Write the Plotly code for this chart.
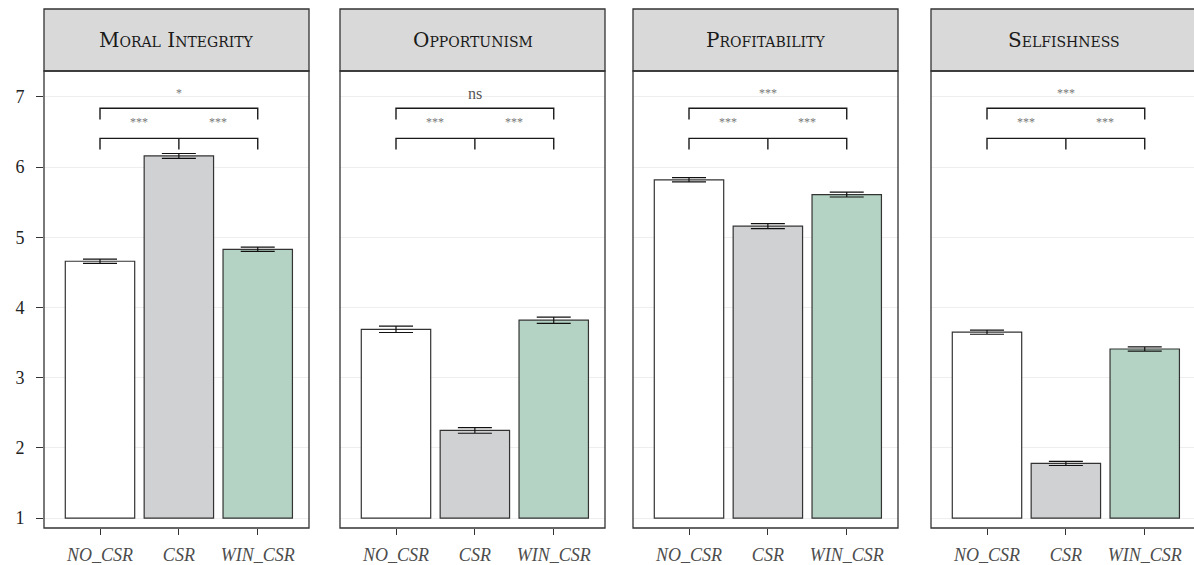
import plotly.graph_objects as go

# Conditions shown on every panel
categories = ["NO_CSR", "CSR", "WIN_CSR"]
bar_colors = ["#ffffff", "#d0d1d3", "#b5d3c5"]

# Panel titles
panel_titles = ["Moral Integrity", "Opportunism", "Profitability", "Selfishness"]

# Mean ratings per condition (NO_CSR, CSR, WIN_CSR)
moral_integrity = [4.66, 6.16, 4.83]
opportunism = [3.69, 2.25, 3.82]
profitability = [5.82, 5.16, 5.61]
selfishness = [3.65, 1.78, 3.41]

# Standard errors
moral_integrity_se = [0.03, 0.035, 0.03]
opportunism_se = [0.045, 0.04, 0.045]
profitability_se = [0.03, 0.035, 0.035]
selfishness_se = [0.03, 0.03, 0.03]

# Significance labels: pairwise (NO_CSR vs CSR, CSR vs WIN_CSR) and outer (NO_CSR vs WIN_CSR)
pair_labels = [["***", "***"], ["***", "***"], ["***", "***"], ["***", "***"]]
outer_labels = ["*", "ns", "***", "***"]

y_ticks = [1, 2, 3, 4, 5, 6, 7]

means = [moral_integrity, opportunism, profitability, selfishness]
errors = [moral_integrity_se, opportunism_se, profitability_se, selfishness_se]

W, H = 1194, 565
SERIF = "Liberation Serif, Times New Roman, serif"
TITLE_SERIF = "DejaVu Serif, serif"

# Panel placement in pixels
panel_left = [44, 340, 633, 931]
panel_w = 265
plot_top, plot_bottom = 71, 528
strip_top = 9

y_range = [0.86, 7.37]
x_left = -0.71
x_span = 3.36
px_per_cat = panel_w / x_span

fig = go.Figure()
shapes = []
annotations = []

for i in range(4):
    sfx = "" if i == 0 else str(i + 1)
    xa, ya = "x" + sfx, "y" + sfx
    left = panel_left[i]
    right = min(left + panel_w, W)
    dom = [left / W, right / W]
    x_right = x_left + (right - left) / px_per_cat

    fig.add_trace(go.Bar(
        x=categories,
        y=[v - 1 for v in means[i]],
        base=1,
        width=0.88,
        marker=dict(color=bar_colors, line=dict(color="#333333", width=1.2)),
        error_y=dict(type="data", array=errors[i], visible=True,
                     color="#111111", thickness=1.2, width=17),
        xaxis=xa, yaxis=ya, hoverinfo="skip",
    ))

    # significance brackets
    lo, hi, drop = 6.41, 6.84, 0.16
    c0, c1, c2 = categories
    bracket_line = dict(color="#1a1a1a", width=1.4)
    fig.add_trace(go.Scatter(
        x=[c0, c0, c2, c2], y=[lo - drop, lo, lo, lo - drop],
        mode="lines", line=bracket_line, xaxis=xa, yaxis=ya, hoverinfo="skip"))
    fig.add_trace(go.Scatter(
        x=[c1, c1], y=[lo, lo - drop],
        mode="lines", line=bracket_line, xaxis=xa, yaxis=ya, hoverinfo="skip"))
    fig.add_trace(go.Scatter(
        x=[c0, c0, c2, c2], y=[hi - drop, hi, hi, hi - drop],
        mode="lines", line=bracket_line, xaxis=xa, yaxis=ya, hoverinfo="skip"))

    for j, lab in enumerate(pair_labels[i]):
        annotations.append(dict(x=0.5 + j, y=6.64, xref=xa, yref=ya, text=lab,
                                showarrow=False, font=dict(family=SERIF, size=12, color="#777777")))
    top = outer_labels[i]
    annotations.append(dict(x=1, y=7.05, xref=xa, yref=ya, text=top, showarrow=False,
                            font=dict(family=SERIF, size=16 if top == "ns" else 12,
                                      color="#555555" if top == "ns" else "#777777")))

    # strip header
    strip_right = (left + panel_w + 2) / W if i == 3 else right / W
    shapes.append(dict(type="rect", xref="paper", yref="paper",
                       x0=left / W, x1=strip_right,
                       y0=(H - plot_top) / H, y1=(H - strip_top) / H,
                       fillcolor="#d9d9d9", line=dict(color="#333333", width=1.3), layer="below"))
    annotations.append(dict(x=(left + panel_w / 2) / W, y=(H - 40) / H, xref="paper", yref="paper",
                            xanchor="center", yanchor="middle",
                            text=panel_titles[i], showarrow=False,
                            font=dict(family=TITLE_SERIF, size=20, color="#1a1a1a", variant="small-caps")))
    # panel frame
    shapes.append(dict(type="rect", xref="paper", yref="paper",
                       x0=left / W, x1=strip_right,
                       y0=(H - plot_bottom) / H, y1=(H - plot_top) / H,
                       line=dict(color="#333333", width=1.3), layer="above"))

    fig.layout["xaxis" + sfx] = dict(
        domain=dom, anchor=ya, range=[x_left, x_right], type="category",
        categoryorder="array", categoryarray=categories,
        showgrid=False, zeroline=False, showline=False,
        ticks="outside", ticklen=6, tickcolor="#333333", tickwidth=1.2,
        tickfont=dict(family=SERIF, size=18, color="#4d4d4d", style="italic"),
        ticklabelstandoff=4,
    )
    fig.layout["yaxis" + sfx] = dict(
        domain=[(H - plot_bottom) / H, (H - plot_top) / H], anchor=xa, range=y_range,
        tickvals=y_ticks, showgrid=True, gridcolor="#eeeeee", gridwidth=1,
        zeroline=False, showline=False,
        ticks="outside" if i == 0 else "", ticklen=7, tickcolor="#333333", tickwidth=1.2,
        showticklabels=(i == 0),
        tickfont=dict(family=SERIF, size=18, color="#222222"),
        ticklabelstandoff=8,
    )

fig.update_layout(
    width=W, height=H,
    margin=dict(l=0, r=0, t=0, b=0),
    paper_bgcolor="white", plot_bgcolor="white",
    showlegend=False,
    shapes=shapes, annotations=annotations,
)

fig.write_html("out.html")
